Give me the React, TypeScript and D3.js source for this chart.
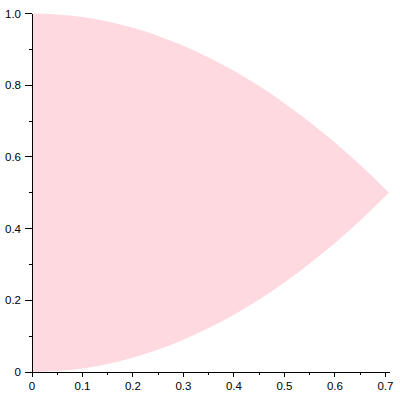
import React from "react";
import * as d3 from "d3";

const xs = [0, 0.05, 0.1, 0.15, 0.2, 0.25, 0.3, 0.35, 0.4, 0.45, 0.5, 0.55, 0.6, 0.65, 0.7, 0.7071];
const upper = [1, 0.9975, 0.99, 0.9775, 0.96, 0.9375, 0.91, 0.8775, 0.84, 0.7975, 0.75, 0.6975, 0.64, 0.5775, 0.51, 0.5];
const lower = [0, 0.0025, 0.01, 0.0225, 0.04, 0.0625, 0.09, 0.1225, 0.16, 0.2025, 0.25, 0.3025, 0.36, 0.4225, 0.49, 0.5];
const xMajor = [0, 0.1, 0.2, 0.3, 0.4, 0.5, 0.6, 0.7];
const xMinor = [0.05, 0.15, 0.25, 0.35, 0.45, 0.55, 0.65];
const yMajor = [0, 0.2, 0.4, 0.6, 0.8, 1.0];
const yMinor = [0.1, 0.3, 0.5, 0.7, 0.9];
const xLabels = ["0", "0.1", "0.2", "0.3", "0.4", "0.5", "0.6", "0.7"];
const yLabels = ["0", "0.2", "0.4", "0.6", "0.8", "1.0"];

export default function App() {
  const x = d3.scaleLinear().domain([0, 0.7071]).range([32, 389]);
  const y = d3.scaleLinear().domain([0, 1]).range([372, 13.5]);
  const rows = xs.map((v, i) => ({ x: v, lo: lower[i], hi: upper[i] }));
  const area = d3
    .area<{ x: number; lo: number; hi: number }>()
    .x((d) => x(d.x))
    .y0((d) => y(d.lo))
    .y1((d) => y(d.hi))
    .curve(d3.curveMonotoneX);
  const font = "'Liberation Sans', Arial, sans-serif";
  return (
    <svg
      width={400}
      height={400}
      style={{ position: "absolute", left: 0, top: 0, background: "#fff" }}
    >
      <path d={area(rows) || ""} fill="rgb(255,217,224)" stroke="none" />
      <g shapeRendering="crispEdges">
        <line x1={x(0)} x2={x(0)} y1={y(1)} y2={y(0)} stroke="#000" strokeWidth={1} />
        <line x1={x(0)} x2={390} y1={y(0)} y2={y(0)} stroke="#000" strokeWidth={1} />
        {xMajor.map((t, i) => (
          <line key={"xmt" + i} x1={x(t)} x2={x(t)} y1={y(0)} y2={y(0) + 5} stroke="#000" />
        ))}
        {xMinor.map((t, i) => (
          <line key={"xn" + i} x1={x(t)} x2={x(t)} y1={y(0)} y2={y(0) + 3} stroke="#000" />
        ))}
        {yMajor.map((t, i) => (
          <line key={"ymt" + i} x1={x(0) - 7} x2={x(0)} y1={y(t)} y2={y(t)} stroke="#000" />
        ))}
        {yMinor.map((t, i) => (
          <line key={"yn" + i} x1={x(0) - 3} x2={x(0)} y1={y(t)} y2={y(t)} stroke="#000" />
        ))}
      </g>
      {xMajor.map((t, i) => (
        <text key={"xl" + i} x={x(t)} y={390} textAnchor="middle" fontSize={11.5} fontFamily={font}>
          {xLabels[i]}
        </text>
      ))}
      {yMajor.map((t, i) => (
        <text
          key={"yl" + i}
          x={21}
          y={y(t)}
          dy="0.35em"
          textAnchor="end"
          fontSize={11.5}
          fontFamily={font}
        >
          {yLabels[i]}
        </text>
      ))}
    </svg>
  );
}
